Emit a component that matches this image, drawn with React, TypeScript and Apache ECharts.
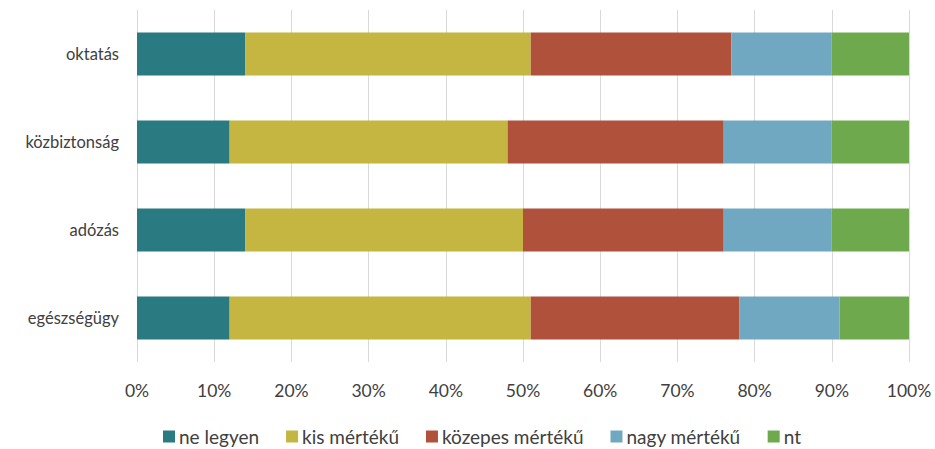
import React, { useEffect, useRef } from "react";
import * as echarts from "echarts";

const categories = ["oktatás", "közbiztonság", "adózás", "egészségügy"];
const seriesNames = ["ne legyen", "kis mértékű", "közepes mértékű", "nagy mértékű", "nt"];
const neLegyen = [14, 12, 14, 12];
const kisMerteku = [37, 36, 36, 39];
const kozepesMerteku = [26, 28, 26, 27];
const nagyMerteku = [13, 14, 14, 13];
const nt = [10, 10, 10, 9];
const colors = ["#2a7a82", "#c4b640", "#b0513c", "#71a8c1", "#6ea94e"];
const xTicks = [0, 10, 20, 30, 40, 50, 60, 70, 80, 90, 100];

export default function App() {
  const ref = useRef<HTMLDivElement>(null);
  useEffect(() => {
    if (!ref.current) return;
    const chart = echarts.init(ref.current, null, { renderer: "svg" });
    const data = [neLegyen, kisMerteku, kozepesMerteku, nagyMerteku, nt];
    const font = "Lato, 'Open Sans', sans-serif";
    chart.setOption({
      animation: false,
      textStyle: { fontFamily: font },
      grid: { left: 137, right: 26, top: 10, bottom: 87, containLabel: false },
      legend: {
        left: 163,
        top: 427,
        padding: 0,
        itemWidth: 12,
        itemHeight: 12,
        itemGap: 27,
        icon: "rect",
        textStyle: { fontSize: 19, color: "#404040", fontFamily: font, padding: [0, 0, 0, -1] },
        data: seriesNames,
      },
      xAxis: {
        type: "value",
        min: xTicks[0],
        max: xTicks[xTicks.length - 1],
        interval: 10,
        axisLine: { show: false },
        axisTick: { show: false },
        splitLine: { show: true, lineStyle: { color: "#d9d9d9", width: 1 } },
        axisLabel: { formatter: "{value}%", fontSize: 17.5, color: "#404040", margin: 19, fontFamily: font },
      },
      yAxis: {
        type: "category",
        data: categories,
        inverse: true,
        axisLine: { show: false },
        axisTick: { show: false },
        axisLabel: { fontSize: 16.5, color: "#404040", margin: 18, fontFamily: font },
      },
      series: seriesNames.map((name, i) => ({
        name,
        type: "bar",
        stack: "total",
        data: data[i],
        barWidth: 43,
        itemStyle: { color: colors[i] },
      })),
    });
    return () => chart.dispose();
  }, []);
  return <div ref={ref} style={{ position: "absolute", left: 0, top: 0, width: 935, height: 449 }} />;
}
